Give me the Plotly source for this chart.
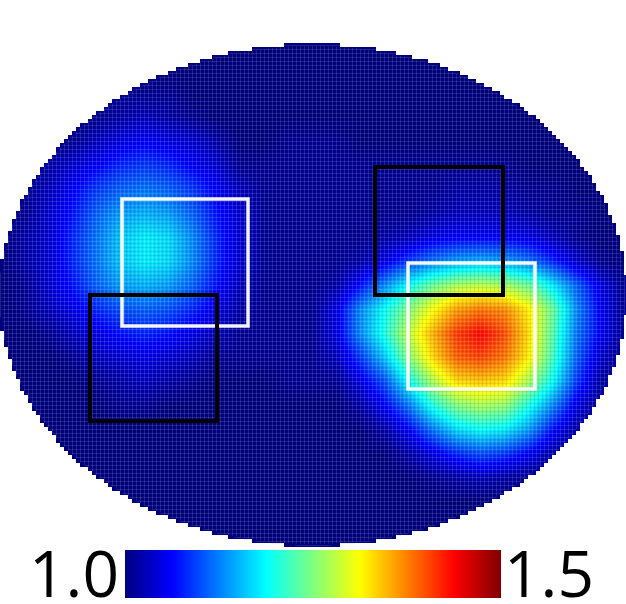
import numpy as np
import plotly.graph_objects as go

col_positions = list(range(0, 625, 24))
row_positions = list(range(45, 550, 24))

z_values = [
 [1.00]*27,
 [1.00]*27,
 [1.00,1.00,1.00,1.00,1.00,1.01,1.01,1.01,1.00,1.00,1.00,1.00,1.00,1.00,1.00,1.00,1.00,1.00,1.00,1.00,1.00,1.00,1.00,1.00,1.00,1.00,1.00],
 [1.00,1.00,1.00,1.00,1.01,1.02,1.03,1.02,1.01,1.00,1.00,1.00,1.00,1.00,1.00,1.00,1.00,1.00,1.00,1.00,1.00,1.00,1.00,1.00,1.00,1.00,1.00],
 [1.00,1.00,1.00,1.01,1.03,1.05,1.06,1.05,1.04,1.02,1.00,1.00,1.01,1.01,1.01,1.00,1.00,1.00,1.00,1.00,1.00,1.00,1.00,1.00,1.00,1.00,1.00],
 [1.00,1.00,1.02,1.04,1.06,1.08,1.09,1.08,1.06,1.04,1.01,1.01,1.01,1.01,1.01,1.01,1.01,1.01,1.01,1.01,1.01,1.01,1.00,1.00,1.00,1.00,1.00],
 [1.00,1.01,1.03,1.06,1.09,1.11,1.12,1.11,1.09,1.06,1.03,1.01,1.01,1.01,1.01,1.01,1.01,1.01,1.01,1.02,1.02,1.02,1.01,1.01,1.00,1.00,1.00],
 [1.00,1.01,1.04,1.07,1.11,1.14,1.15,1.14,1.11,1.07,1.04,1.01,1.01,1.01,1.01,1.01,1.01,1.01,1.02,1.03,1.03,1.03,1.02,1.01,1.01,1.00,1.00],
 [1.00,1.02,1.04,1.08,1.12,1.16,1.18,1.17,1.13,1.08,1.04,1.01,1.01,1.01,1.01,1.01,1.02,1.03,1.05,1.06,1.06,1.06,1.05,1.03,1.01,1.00,1.00],
 [1.00,1.02,1.04,1.08,1.12,1.16,1.18,1.17,1.13,1.08,1.04,1.01,1.01,1.01,1.01,1.02,1.05,1.09,1.12,1.14,1.15,1.14,1.12,1.08,1.04,1.01,1.00],
 [1.00,1.01,1.04,1.07,1.11,1.14,1.15,1.14,1.11,1.07,1.03,1.01,1.01,1.01,1.02,1.07,1.13,1.19,1.24,1.27,1.28,1.27,1.24,1.18,1.11,1.05,1.01],
 [1.00,1.01,1.03,1.05,1.08,1.10,1.11,1.10,1.08,1.05,1.02,1.01,1.01,1.01,1.05,1.13,1.19,1.25,1.31,1.36,1.38,1.37,1.32,1.24,1.13,1.06,1.01],
 [1.00,1.00,1.01,1.03,1.05,1.07,1.08,1.07,1.05,1.03,1.01,1.01,1.01,1.01,1.05,1.13,1.20,1.28,1.35,1.41,1.435,1.40,1.33,1.23,1.12,1.06,1.01],
 [1.00,1.00,1.00,1.01,1.03,1.04,1.05,1.04,1.03,1.01,1.01,1.01,1.01,1.01,1.03,1.09,1.16,1.25,1.33,1.39,1.405,1.38,1.32,1.22,1.11,1.04,1.00],
 [1.00,1.00,1.00,1.00,1.01,1.02,1.03,1.02,1.01,1.00,1.00,1.00,1.01,1.01,1.01,1.05,1.10,1.19,1.27,1.33,1.34,1.33,1.27,1.19,1.09,1.02,1.00],
 [1.00,1.00,1.00,1.00,1.00,1.01,1.01,1.00,1.00,1.00,1.00,1.00,1.00,1.00,1.00,1.02,1.06,1.12,1.20,1.25,1.27,1.26,1.20,1.13,1.05,1.01,1.00],
 [1.00,1.00,1.00,1.00,1.00,1.00,1.00,1.00,1.00,1.00,1.00,1.00,1.00,1.00,1.00,1.00,1.02,1.06,1.12,1.17,1.19,1.18,1.14,1.07,1.02,1.00,1.00],
 [1.00,1.00,1.00,1.00,1.00,1.00,1.00,1.00,1.00,1.00,1.00,1.00,1.00,1.00,1.00,1.00,1.00,1.02,1.05,1.08,1.10,1.09,1.06,1.02,1.00,1.00,1.00],
 [1.00,1.00,1.00,1.00,1.00,1.00,1.00,1.00,1.00,1.00,1.00,1.00,1.00,1.00,1.00,1.00,1.00,1.00,1.01,1.02,1.03,1.02,1.01,1.00,1.00,1.00,1.00],
 [1.00]*27,
 [1.00]*27,
 [1.00]*27,
]

white_boxes = [(122, 199, 248, 326), (408, 263, 535, 389)]
black_boxes = [(375, 167, 503, 295), (90, 295, 217, 421)]
scale_min, scale_max = 1.0, 1.5
scale_labels = ["1.0", "1.5"]

jet = [[0, "rgb(0,0,127)"], [0.125, "rgb(0,0,255)"], [0.375, "rgb(0,255,255)"],
       [0.625, "rgb(255,255,0)"], [0.875, "rgb(255,0,0)"], [1, "rgb(127,0,0)"]]

W, H, BAR_ROOM = 626, 604, 56
PLOT_H = H - BAR_ROOM
CELL = 4
CX, CY, RX, RY = 313, 295, 314, 251

fig = go.Figure()
fig.add_trace(go.Heatmap(
    x=col_positions, y=row_positions, z=z_values, zsmooth="best",
    zmin=scale_min, zmax=scale_max, colorscale=jet, hoverinfo="skip",
    colorbar=dict(orientation="h", x=313 / W, xanchor="center", y=-2 / PLOT_H, yanchor="top",
                  lenmode="pixels", len=376, thicknessmode="pixels", thickness=48,
                  xpad=0, ypad=0, outlinewidth=0, borderwidth=0, ticks="", showticklabels=False),
))

# stepped outline: everything outside the sampled disc is painted white
gx = np.arange(0, W + CELL, CELL) + CELL / 2
gy = np.arange(-1, PLOT_H + CELL, CELL) + CELL / 2
XX, YY = np.meshgrid(gx, gy)
inside = ((XX - CX) / RX) ** 2 + ((YY - CY) / RY) ** 2 <= 1
mask = np.where(inside, np.nan, 1.0)
fig.add_trace(go.Heatmap(x=gx, y=gy, z=mask, showscale=False, hoverinfo="skip",
                         colorscale=[[0, "white"], [1, "white"]], zmin=0, zmax=1))

# faint light and dark mesh between the sample cells, kept inside the disc
inset = CELL / 2
for offset, colour in ((0.5, "rgba(255,255,255,0.12)"), (2.5, "rgba(0,0,0,0.07)")):
    mx, my = [], []
    for x in np.arange(0, W + 1, CELL):
        u = (x + offset - CX) / RX
        if abs(u) < 1:
            half = RY * np.sqrt(1 - u * u) - inset
            if half > 0:
                mx += [x + offset, x + offset, None]; my += [CY - half, CY + half, None]
    for y in np.arange(45, PLOT_H, CELL):
        v = (y + offset - CY) / RY
        if abs(v) < 1:
            half = RX * np.sqrt(1 - v * v) - inset
            if half > 0:
                mx += [CX - half, CX + half, None]; my += [y + offset, y + offset, None]
    fig.add_trace(go.Scatter(x=mx, y=my, mode="lines", line=dict(color=colour, width=1),
                             hoverinfo="skip", showlegend=False))

shapes = []
for boxes, colour, lw in ((white_boxes, "rgba(255,255,255,0.95)", 3.5), (black_boxes, "black", 4)):
    for x0, y0, x1, y1 in boxes:
        shapes.append(dict(type="rect", x0=x0, y0=y0, x1=x1, y1=y1, xref="x", yref="y",
                           line=dict(color=colour, width=lw)))

font = dict(family="Open Sans, sans-serif", size=64, color="black")
label_y = (PLOT_H - 572) / PLOT_H
annotations = [
    dict(text=scale_labels[0], x=121 / W, y=label_y, xref="paper", yref="paper", xanchor="right",
         yanchor="middle", showarrow=False, font=font),
    dict(text=scale_labels[1], x=502 / W, y=label_y, xref="paper", yref="paper", xanchor="left",
         yanchor="middle", showarrow=False, font=font),
]

fig.update_layout(
    width=W, height=H, margin=dict(l=0, r=0, t=0, b=BAR_ROOM), paper_bgcolor="white", plot_bgcolor="white",
    xaxis=dict(range=[0, W], visible=False, fixedrange=True),
    yaxis=dict(range=[PLOT_H, 0], visible=False, fixedrange=True),
    shapes=shapes, annotations=annotations, showlegend=False,
)
fig.write_html("out.html", config={"displayModeBar": False},
               post_script="document.body.style.margin='0';document.body.style.overflow='hidden';")
